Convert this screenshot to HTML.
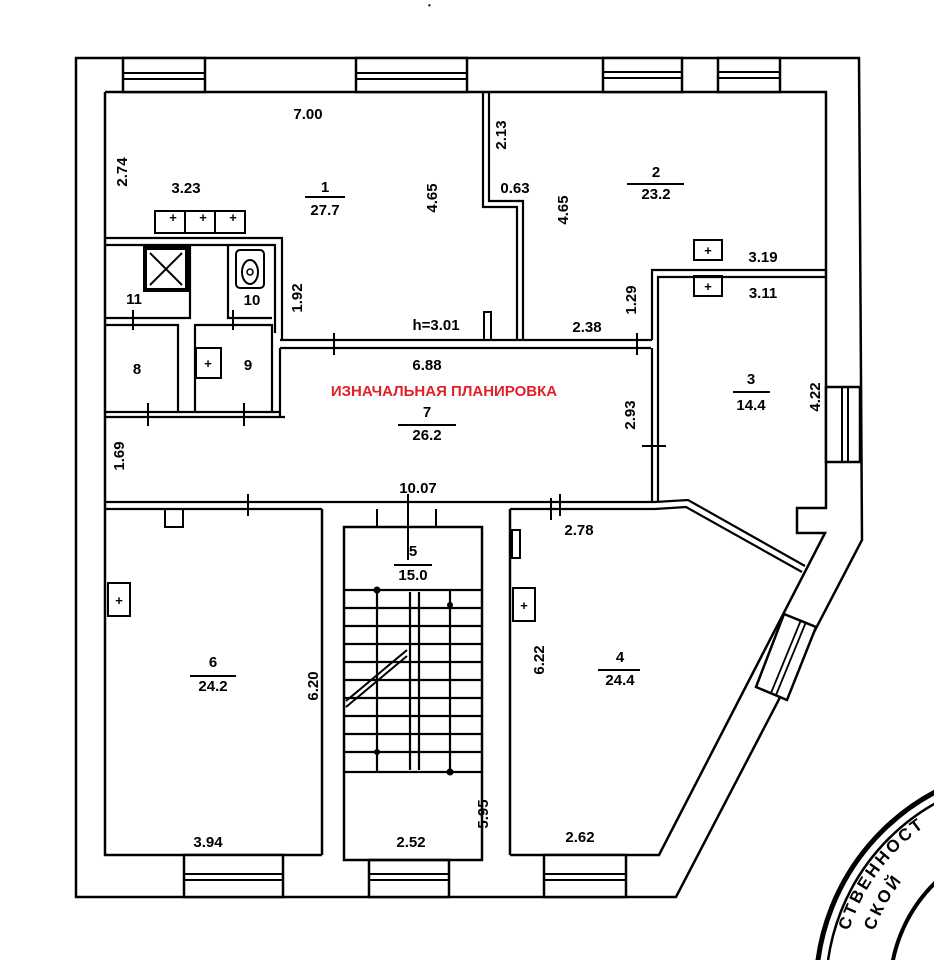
<!DOCTYPE html>
<html><head><meta charset="utf-8"><style>
html,body{margin:0;padding:0;background:#fff;overflow:hidden;width:934px;height:960px}
svg{display:block}
text{font-family:"Liberation Sans",sans-serif;font-weight:bold;fill:#000}
</style></head><body>
<svg width="934" height="960" viewBox="0 0 934 960" xmlns="http://www.w3.org/2000/svg">
<g stroke="#000" fill="none" stroke-width="2.5">
<path d="M76 58 L859 58 L862 540 L676 897 L76 897 Z"/>
<path d="M105 92 L826 92 L826 508 L797 508 L797 533 L825 533 L659 855 L510 855"/>
<path d="M105 92 L105 855 L322 855"/>
<g fill="#fff">
<rect x="123" y="58" width="82" height="34"/>
<rect x="356" y="58" width="111" height="34"/>
<rect x="603" y="58" width="79" height="34"/>
<rect x="718" y="58" width="62" height="34"/>
</g>
<path d="M123 73 H205 M123 79 H205 M356 73 H467 M356 79 H467 M603 72 H682 M603 78 H682 M718 72 H780 M718 78 H780" stroke-width="2"/>
<rect x="826" y="387" width="34" height="75" fill="#fff"/>
<path d="M842 387 V462 M848 387 V462" stroke-width="2"/>
<path d="M784 614 L816 627 L787 700 L756 687 Z" fill="#fff"/>
<path d="M801 620 L771 693 M806 622 L776 695" stroke-width="1.8"/>
<g fill="#fff">
<rect x="184" y="855" width="99" height="42"/>
<rect x="369" y="860" width="80" height="37"/>
<rect x="544" y="855" width="82" height="42"/>
</g>
<path d="M184 874 H283 M184 880 H283 M369 874 H449 M369 880 H449 M544 874 H626 M544 880 H626" stroke-width="2"/>
<path d="M483 92 V207 H517 V340 M489 92 V201 H523 V340" stroke-width="2.2"/>
<path d="M484 340 V312 H491 V340" stroke-width="2"/>
<path d="M280 340 H652 M280 348 H651" stroke-width="2.2"/>
<path d="M652 340 V270 H826 M658 502 V277 H826" stroke-width="2.2"/>
<path d="M652 348 V502" stroke-width="2.2"/>
<path d="M105 502 H655 L688 500 L805 566 M105 509 H322 M510 509 H655 L686 507 L802 572" stroke-width="2.2"/>
<path d="M322 509 V855 M510 509 V855" stroke-width="2.5"/>
<rect x="344" y="527" width="138" height="333"/>
<path d="M377 509 V527 M436 509 V527" stroke-width="2"/>
<path d="M344 590 H482 M344 608 H482 M344 626 H482 M344 644 H482 M344 662 H482 M344 680 H482 M344 698 H482 M344 716 H482 M344 734 H482 M344 752 H482 M344 772 H482" stroke-width="2.2"/>
<path d="M377 590 V772 M450 590 V772 M410 592 V770 M419 592 V770" stroke-width="2.2"/>
<path d="M346 701 L407 650 M346 707 L407 656" stroke-width="2"/>
<path d="M105 238 H282 V340 M105 245 H275 V333 M280 348 V416 M105 412 H280 M105 417 H285" stroke-width="2.2"/>
<rect x="155" y="211" width="30" height="22" stroke-width="2"/>
<rect x="185" y="211" width="30" height="22" stroke-width="2"/>
<rect x="215" y="211" width="30" height="22" stroke-width="2"/>
<path d="M190 245 V318 H105 M105 325 H178 V412 M195 412 V325 H272 V412" stroke-width="2.2"/>
<path d="M228 245 V318 H272" stroke-width="2.2"/>
<rect x="145" y="248" width="42" height="42" stroke-width="4"/>
<path d="M150 253 L182 285 M182 253 L150 285" stroke-width="2"/>
<rect x="236" y="250" width="28" height="38" rx="4" stroke-width="2"/>
<ellipse cx="250" cy="272" rx="8" ry="12" stroke-width="2"/>
<circle cx="250" cy="272" r="3" stroke-width="1.5"/>
<rect x="196" y="348" width="25" height="30" stroke-width="2"/>
<rect x="694" y="240" width="28" height="20" stroke-width="2"/>
<rect x="694" y="276" width="28" height="20" stroke-width="2"/>
<rect x="108" y="583" width="22" height="33" stroke-width="2"/>
<rect x="513" y="588" width="22" height="33" stroke-width="2"/>
<rect x="512" y="530" width="8" height="28" stroke-width="2"/>
<rect x="165" y="509" width="18" height="18" stroke-width="2"/>
<path d="M334 333 V355 M560 494 V516 M248 494 V516 M408 494 V560 M642 446 H666 M637 333 V355 M133 310 V330 M233 310 V330 M148 403 V426 M244 403 V426 M551 498 V520" stroke-width="2"/>
</g>
<g font-size="13" text-anchor="middle">
<text x="173" y="222">+</text><text x="203" y="222">+</text><text x="233" y="222">+</text>
<text x="208" y="368">+</text><text x="708" y="255">+</text><text x="708" y="291">+</text>
<text x="119" y="605">+</text><text x="524" y="610">+</text>
</g>
<circle cx="377" cy="590" r="3.5"/><circle cx="450" cy="772" r="3.5"/><circle cx="450" cy="605" r="3"/><circle cx="377" cy="752" r="3"/>
<g font-size="15" text-anchor="middle">
<text x="308" y="119">7.00</text>
<text x="186" y="193">3.23</text>
<text x="325" y="192">1</text>
<text x="325" y="215">27.7</text>
<text x="656" y="177">2</text>
<text x="656" y="199">23.2</text>
<text x="515" y="193">0.63</text>
<text x="763" y="262">3.19</text>
<text x="763" y="298">3.11</text>
<text x="751" y="384">3</text>
<text x="751" y="410">14.4</text>
<text x="436" y="330">h=3.01</text>
<text x="587" y="332">2.38</text>
<text x="427" y="370">6.88</text>
<text x="427" y="417">7</text>
<text x="427" y="440">26.2</text>
<text x="418" y="493">10.07</text>
<text x="579" y="535">2.78</text>
<text x="413" y="556">5</text>
<text x="413" y="580">15.0</text>
<text x="213" y="667">6</text>
<text x="213" y="691">24.2</text>
<text x="620" y="662">4</text>
<text x="620" y="685">24.4</text>
<text x="208" y="847">3.94</text>
<text x="411" y="847">2.52</text>
<text x="580" y="842">2.62</text>
<text x="134" y="304">11</text>
<text x="252" y="305">10</text>
<text x="137" y="374">8</text>
<text x="248" y="370">9</text>
</g>
<path d="M305 197 H345 M627 184 H684 M733 392 H770 M398 425 H456 M394 565 H432 M190 676 H236 M598 670 H640" stroke="#000" stroke-width="2"/>
<g font-size="15" text-anchor="middle">
<text transform="translate(127,172) rotate(-90)">2.74</text>
<text transform="translate(506,135) rotate(-90)">2.13</text>
<text transform="translate(437,198) rotate(-90)">4.65</text>
<text transform="translate(568,210) rotate(-90)">4.65</text>
<text transform="translate(302,298) rotate(-90)">1.92</text>
<text transform="translate(636,300) rotate(-90)">1.29</text>
<text transform="translate(635,415) rotate(-90)">2.93</text>
<text transform="translate(820,397) rotate(-90)">4.22</text>
<text transform="translate(124,456) rotate(-90)">1.69</text>
<text transform="translate(318,686) rotate(-90)">6.20</text>
<text transform="translate(544,660) rotate(-90)">6.22</text>
<text transform="translate(488,814) rotate(-90)">5.95</text>
</g>
<text x="444" y="396" text-anchor="middle" font-size="15" style="fill:#e0202a">ИЗНАЧАЛЬНАЯ ПЛАНИРОВКА</text>
<g stroke="#000" fill="none">
<circle cx="1040" cy="990" r="224" stroke-width="5"/>
<circle cx="1040" cy="990" r="214" stroke-width="2.5"/>
<circle cx="1040" cy="990" r="150" stroke-width="4"/>
</g>
<defs><path id="arc1" d="M840 990 A200 200 0 0 1 1040 790"/><path id="arc2" d="M864 990 A176 176 0 0 1 1040 814"/></defs>
<text font-size="17" letter-spacing="3"><textPath href="#arc1" startOffset="60">СТВЕННОСТ</textPath></text>
<text font-size="17" letter-spacing="3"><textPath href="#arc2" startOffset="60">СКОЙ</textPath></text>
<text x="428" y="8" font-size="8">•</text>
</svg>
</body></html>
